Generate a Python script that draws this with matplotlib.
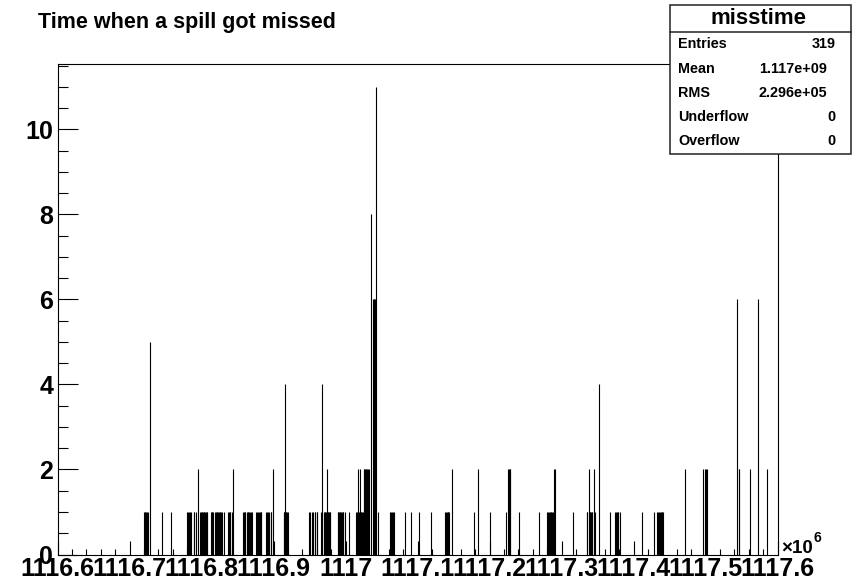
import matplotlib
matplotlib.use("Agg")
import matplotlib.pyplot as plt
from matplotlib.patches import Rectangle
from matplotlib.ticker import MultipleLocator, FixedLocator, FixedFormatter

# missed spill times (units of 1e6 s) and entries per bin
spill_times = [
    1116.720, 1116.721, 1116.722, 1116.723, 1116.724, 1116.725, 1116.728,
    1116.745, 1116.757,
    1116.780, 1116.781, 1116.783, 1116.784, 1116.786, 1116.789, 1116.790, 1116.792,
    1116.795,
    1116.798, 1116.799, 1116.800, 1116.801, 1116.802, 1116.803, 1116.804, 1116.805,
    1116.806, 1116.807, 1116.808,
    1116.813, 1116.814, 1116.815, 1116.816, 1116.819, 1116.820, 1116.821, 1116.822,
    1116.823, 1116.824, 1116.825, 1116.826, 1116.827, 1116.828, 1116.831,
    1116.837, 1116.838, 1116.839, 1116.840, 1116.842, 1116.844,
    1116.858, 1116.859, 1116.860, 1116.861, 1116.863,
    1116.864, 1116.865, 1116.866, 1116.868, 1116.869, 1116.870,
    1116.876, 1116.877, 1116.878, 1116.880, 1116.881, 1116.882, 1116.883,
    1116.890, 1116.891, 1116.893, 1116.894, 1116.896, 1116.897, 1116.899,
    1116.914, 1116.915, 1116.916, 1116.917, 1116.918, 1116.919, 1116.920,
    1116.949, 1116.951,
    1116.954, 1116.955, 1116.957, 1116.958, 1116.960, 1116.961,
    1116.966, 1116.967, 1116.968, 1116.970, 1116.971, 1116.972, 1116.973, 1116.974,
    1116.975, 1116.976, 1116.977, 1116.978, 1116.979,
    1116.989, 1116.990, 1116.991, 1116.992, 1116.993, 1116.994, 1116.995, 1116.996,
    1116.997, 1116.999, 1117.005,
    1117.015, 1117.016, 1117.017, 1117.018, 1117.019, 1117.020, 1117.021, 1117.022,
    1117.023, 1117.024, 1117.025, 1117.026, 1117.027, 1117.028, 1117.029, 1117.030,
    1117.031, 1117.032,
    1117.036, 1117.038, 1117.039, 1117.040, 1117.041, 1117.042,
    1117.045,
    1117.062, 1117.063, 1117.064, 1117.066, 1117.067,
    1117.083, 1117.091, 1117.102, 1117.119,
    1117.138, 1117.139, 1117.141, 1117.142, 1117.143, 1117.144, 1117.148,
    1117.179, 1117.184, 1117.201, 1117.223,
    1117.225, 1117.227, 1117.228, 1117.229,
    1117.241, 1117.269,
    1117.280, 1117.281, 1117.282, 1117.284, 1117.285, 1117.286, 1117.287, 1117.288,
    1117.290, 1117.291,
    1117.316,
    1117.335, 1117.336, 1117.338, 1117.339, 1117.340, 1117.341, 1117.342, 1117.343,
    1117.345, 1117.347,
    1117.352, 1117.367,
    1117.374, 1117.375, 1117.377, 1117.378, 1117.379, 1117.381,
    1117.412, 1117.429,
    1117.433, 1117.434, 1117.435, 1117.437, 1117.438, 1117.439, 1117.440, 1117.441,
    1117.472, 1117.497, 1117.499, 1117.500, 1117.502,
    1117.544, 1117.546, 1117.547,
    1117.562, 1117.573, 1117.585,
]
spill_counts = [
    1, 1, 1, 1, 1, 1, 5,
    1, 1,
    1, 1, 1, 1, 1, 1, 1, 1,
    2,
    1, 1, 1, 1, 1, 1, 1, 1,
    1, 1, 1,
    1, 1, 1, 1, 1, 1, 1, 1,
    1, 1, 1, 1, 1, 1, 1,
    1, 1, 1, 1, 1, 2,
    1, 1, 1, 1, 1,
    1, 1, 1, 1, 1, 1,
    1, 1, 1, 1, 1, 1, 1,
    1, 1, 1, 1, 1, 1, 2,
    1, 1, 4, 1, 1, 1, 1,
    1, 1,
    1, 1, 1, 1, 1, 1,
    1, 1, 4, 1, 1, 1, 1, 2,
    1, 1, 1, 1, 1,
    1, 1, 1, 1, 1, 1, 1, 1,
    1, 1, 1,
    1, 1, 1, 2, 1, 2, 1, 1,
    1, 1, 2, 2, 2, 2, 2, 2,
    2, 2,
    8, 6, 6, 6, 6, 11,
    1,
    1, 1, 1, 1, 1,
    1, 1, 1, 1,
    1, 1, 1, 1, 1, 1, 2,
    1, 2, 1, 1,
    2, 2, 2, 2,
    1, 1,
    1, 1, 1, 1, 1, 1, 1, 1,
    2, 2,
    1,
    1, 1, 2, 1, 1, 1, 1, 1,
    2, 1,
    4, 1,
    1, 1, 1, 1, 1, 1,
    1, 1,
    1, 1, 1, 1, 1, 1, 1, 1,
    2, 2, 2, 2, 2,
    6, 2, 2,
    2, 6, 2,
]
x_tick_values = [1116.6, 1116.7, 1116.8, 1116.9, 1117.0, 1117.1,
                 1117.2, 1117.3, 1117.4, 1117.5, 1117.6]
x_tick_labels = ["1116.6", "1116.7", "1116.8", "1116.9", "1117", "1117.1",
                 "1117.2", "1117.3", "1117.4", "1117.5", "1117.6"]
y_tick_values = [0, 2, 4, 6, 8, 10]
stat_names = ["Entries", "Mean", "RMS", "Underflow", "Overflow"]
stat_values = ["319", "1.117e+09", "2.296e+05", "0", "0"]

W, H = 852, 579
text_font = ["Liberation Sans", "DejaVu Sans"]


def fx(px):
    return px / W


def fy(py):
    return 1 - py / H


fig = plt.figure(figsize=(W / 100, H / 100), dpi=100)
ax = fig.add_axes([fx(57.5), fy(554.5), 720 / W, (554.5 - 63.5) / H])

ax.vlines(spill_times, 0, spill_counts, colors="black", linewidth=0.8)

ax.set_xlim(1116.6, 1117.6)
ax.set_ylim(0, 11.55)

ax.xaxis.set_major_locator(FixedLocator(x_tick_values))
ax.xaxis.set_major_formatter(FixedFormatter(x_tick_labels))
ax.xaxis.set_minor_locator(MultipleLocator(0.02))
ax.yaxis.set_major_locator(FixedLocator(y_tick_values))
ax.yaxis.set_minor_locator(MultipleLocator(0.5))

ax.tick_params(axis="x", which="major", direction="in", length=10, width=0.8, pad=1.5)
ax.tick_params(axis="x", which="minor", direction="in", length=4.5, width=0.8)
ax.tick_params(axis="y", which="major", direction="in", length=14.4, width=0.8, pad=3)
ax.tick_params(axis="y", which="minor", direction="in", length=7.2, width=0.8)
for lab in ax.get_xticklabels() + ax.get_yticklabels():
    lab.set_fontfamily(text_font)
    lab.set_fontweight("bold")
    lab.set_fontsize(18)
for sp in ax.spines.values():
    sp.set_linewidth(0.8)

# title
fig.text(fx(38), fy(28), "Time when a spill got missed", fontsize=15.5,
         fontweight="bold", family=text_font, ha="left", va="baseline")

# x10^6 exponent
fig.text(fx(781), fy(553), "\u00d710", fontsize=13.5, fontweight="bold",
         family=text_font, ha="left", va="baseline")
fig.text(fx(813), fy(542), "6", fontsize=10, fontweight="bold",
         family=text_font, ha="left", va="baseline")

# stats box
box_l, box_r, box_t, box_b, head_b = 670, 851, 5, 154, 31.7
fig.patches.append(Rectangle((fx(box_l), fy(box_b)), (box_r - box_l) / W,
                             (box_b - box_t) / H, transform=fig.transFigure,
                             facecolor="white", edgecolor="#222222",
                             linewidth=1.1, zorder=5))
fig.add_artist(plt.Line2D([fx(box_l), fx(box_r)], [fy(head_b), fy(head_b)],
                          transform=fig.transFigure, color="#222222",
                          linewidth=1.1, zorder=6))
fig.text(fx(758), fy(18.5), "misstime", fontsize=16, fontweight="bold",
         family=text_font, ha="center", va="center", zorder=7)
row_y = [44, 68.5, 93, 117, 141]
value_right = [836, 827, 827, 836, 836]
for name, val, ry, vr in zip(stat_names, stat_values, row_y, value_right):
    fig.text(fx(678), fy(ry), name, fontsize=10.4, fontweight="bold",
             family=text_font, ha="left", va="center", zorder=7)
    fig.text(fx(vr), fy(ry), val, fontsize=10.4, fontweight="bold",
             family=text_font, ha="right", va="center", zorder=7)

fig.savefig("out.png", dpi=100)
